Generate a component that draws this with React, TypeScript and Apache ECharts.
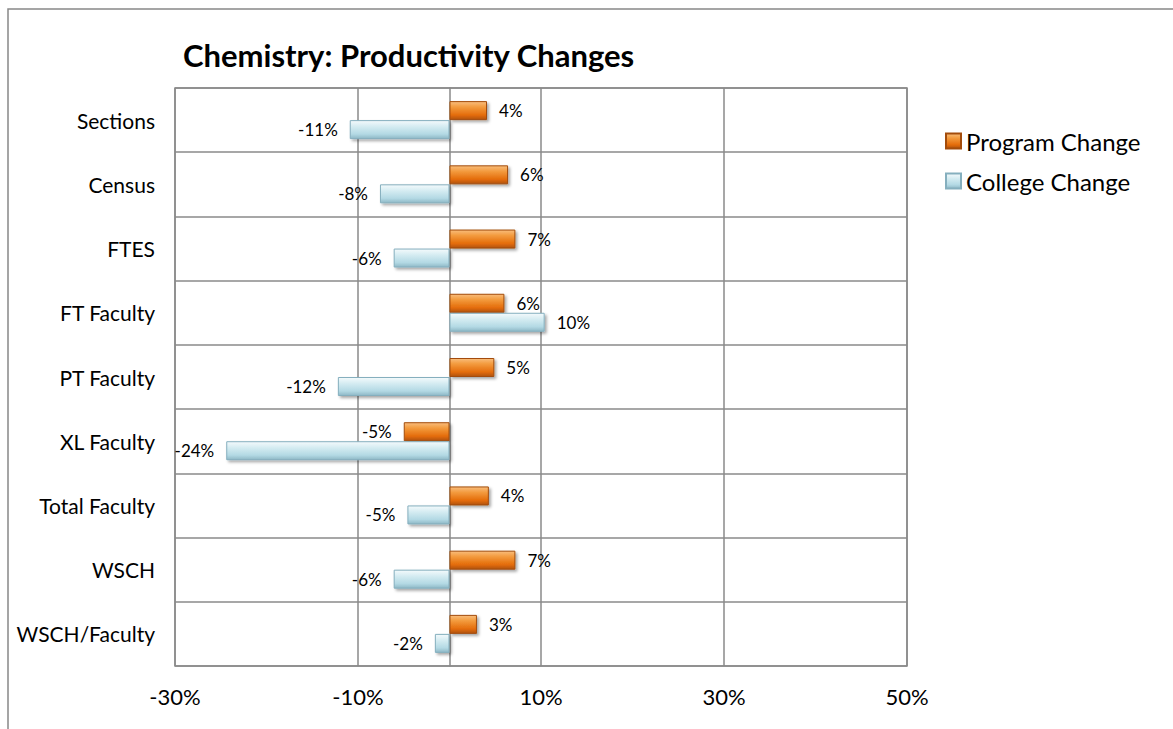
import React, { useEffect, useRef } from "react";
import * as echarts from "echarts";

const categories = [
  "Sections",
  "Census",
  "FTES",
  "FT Faculty",
  "PT Faculty",
  "XL Faculty",
  "Total Faculty",
  "WSCH",
  "WSCH/Faculty",
];
const programChange = [4.1, 6.4, 7.2, 6.0, 4.9, -5.0, 4.3, 7.2, 3.0];
const collegeChange = [-10.9, -7.6, -6.1, 10.4, -12.2, -24.4, -4.6, -6.1, -1.6];
const seriesNames = ["Program Change", "College Change"];
const axisMin = -30;
const axisMax = 50;
const tickStep = 20;

const FONT = "Lato, 'Open Sans', sans-serif";
const GRID_COLOR = "#8a8a8a";

const orangeFill = new echarts.graphic.LinearGradient(0, 0, 0, 1, [
  { offset: 0, color: "#F9BD7C" },
  { offset: 0.3, color: "#F39B3E" },
  { offset: 0.75, color: "#E46C0A" },
  { offset: 1, color: "#B0520C" },
]);
const blueFill = new echarts.graphic.LinearGradient(0, 0, 0, 1, [
  { offset: 0, color: "#F4FAFC" },
  { offset: 0.35, color: "#D3EBF1" },
  { offset: 0.75, color: "#B3D9E4" },
  { offset: 1, color: "#8EB8C6" },
]);

function toData(values: number[]) {
  return values.map((v) => ({
    value: v,
    label: { position: v < 0 ? "left" : "right" },
  }));
}

export default function App() {
  const ref = useRef<HTMLDivElement>(null);
  useEffect(() => {
    if (!ref.current) return;
    const chart = echarts.init(ref.current, null, { renderer: "svg" });
    const barCommon = {
      type: "bar",
      barWidth: 19,
      barGap: "0%",
      xAxisIndex: 0,
      label: {
        show: true,
        distance: 12,
        fontFamily: FONT,
        fontSize: 17,
        color: "#000",
        formatter: (p: any) => Math.round(p.value) + "%",
      },
    };
    chart.setOption({
      animation: false,
      backgroundColor: "#fff",
      title: {
        text: "Chemistry: Productivity Changes",
        left: 178,
        top: 34,
        textStyle: {
          fontFamily: FONT,
          fontSize: 31,
          fontWeight: "bold",
          color: "#000",
        },
      },
      legend: {
        orient: "vertical",
        left: 940,
        top: 124,
        itemWidth: 15,
        itemHeight: 15,
        itemGap: 16,
        icon: "rect",
        textStyle: { fontFamily: FONT, fontSize: 24, color: "#000" },
        data: seriesNames,
      },
      graphic: [
        {
          type: "rect",
          shape: { x: 8, y: 9, width: 1300, height: 900 },
          style: { fill: "none", stroke: "#888", lineWidth: 1.5 },
          silent: true,
        },
      ],
      grid: {
        left: 175,
        top: 88,
        width: 732,
        height: 578,
        show: true,
        borderColor: GRID_COLOR,
        borderWidth: 1.5,
        containLabel: false,
      },
      xAxis: [
        {
          type: "value",
          min: axisMin,
          max: axisMax,
          axisLabel: { show: false },
          splitLine: { show: false },
          axisLine: { show: false },
          axisTick: { show: false },
        },
        {
          type: "value",
          position: "bottom",
          min: 0,
          max: axisMax - axisMin,
          interval: tickStep,
          axisLabel: {
            margin: 19,
            fontFamily: FONT,
            fontSize: 22,
            color: "#000",
            formatter: (v: number) => v + axisMin + "%",
          },
          splitLine: { show: true, lineStyle: { color: GRID_COLOR, width: 1.5 } },
          axisLine: { show: false },
          axisTick: { show: false },
        },
      ],
      yAxis: {
        type: "category",
        inverse: true,
        data: categories,
        axisLine: {
          show: true,
          onZero: true,
          onZeroAxisIndex: 0,
          lineStyle: { color: GRID_COLOR, width: 1.5 },
        },
        axisTick: { show: false },
        splitLine: { show: true, lineStyle: { color: GRID_COLOR, width: 1.5 } },
        axisLabel: {
          margin: 20,
          fontFamily: FONT,
          fontSize: 21,
          color: "#000",
        },
      },
      series: [
        {
          ...barCommon,
          name: seriesNames[0],
          data: toData(programChange),
          itemStyle: {
            color: orangeFill,
            borderColor: "#A34C0B",
            borderWidth: 1,
            shadowBlur: 3,
            shadowOffsetX: 2,
            shadowOffsetY: 2,
            shadowColor: "rgba(0,0,0,0.35)",
          },
        },
        {
          ...barCommon,
          name: seriesNames[1],
          data: toData(collegeChange),
          itemStyle: {
            color: blueFill,
            borderColor: "#85AFBE",
            borderWidth: 1,
            shadowBlur: 3,
            shadowOffsetX: 2,
            shadowOffsetY: 2,
            shadowColor: "rgba(0,0,0,0.35)",
          },
        },
      ],
    });
    return () => chart.dispose();
  }, []);
  return (
    <div
      ref={ref}
      style={{ position: "fixed", left: 0, top: 0, width: 1173, height: 729 }}
    />
  );
}
